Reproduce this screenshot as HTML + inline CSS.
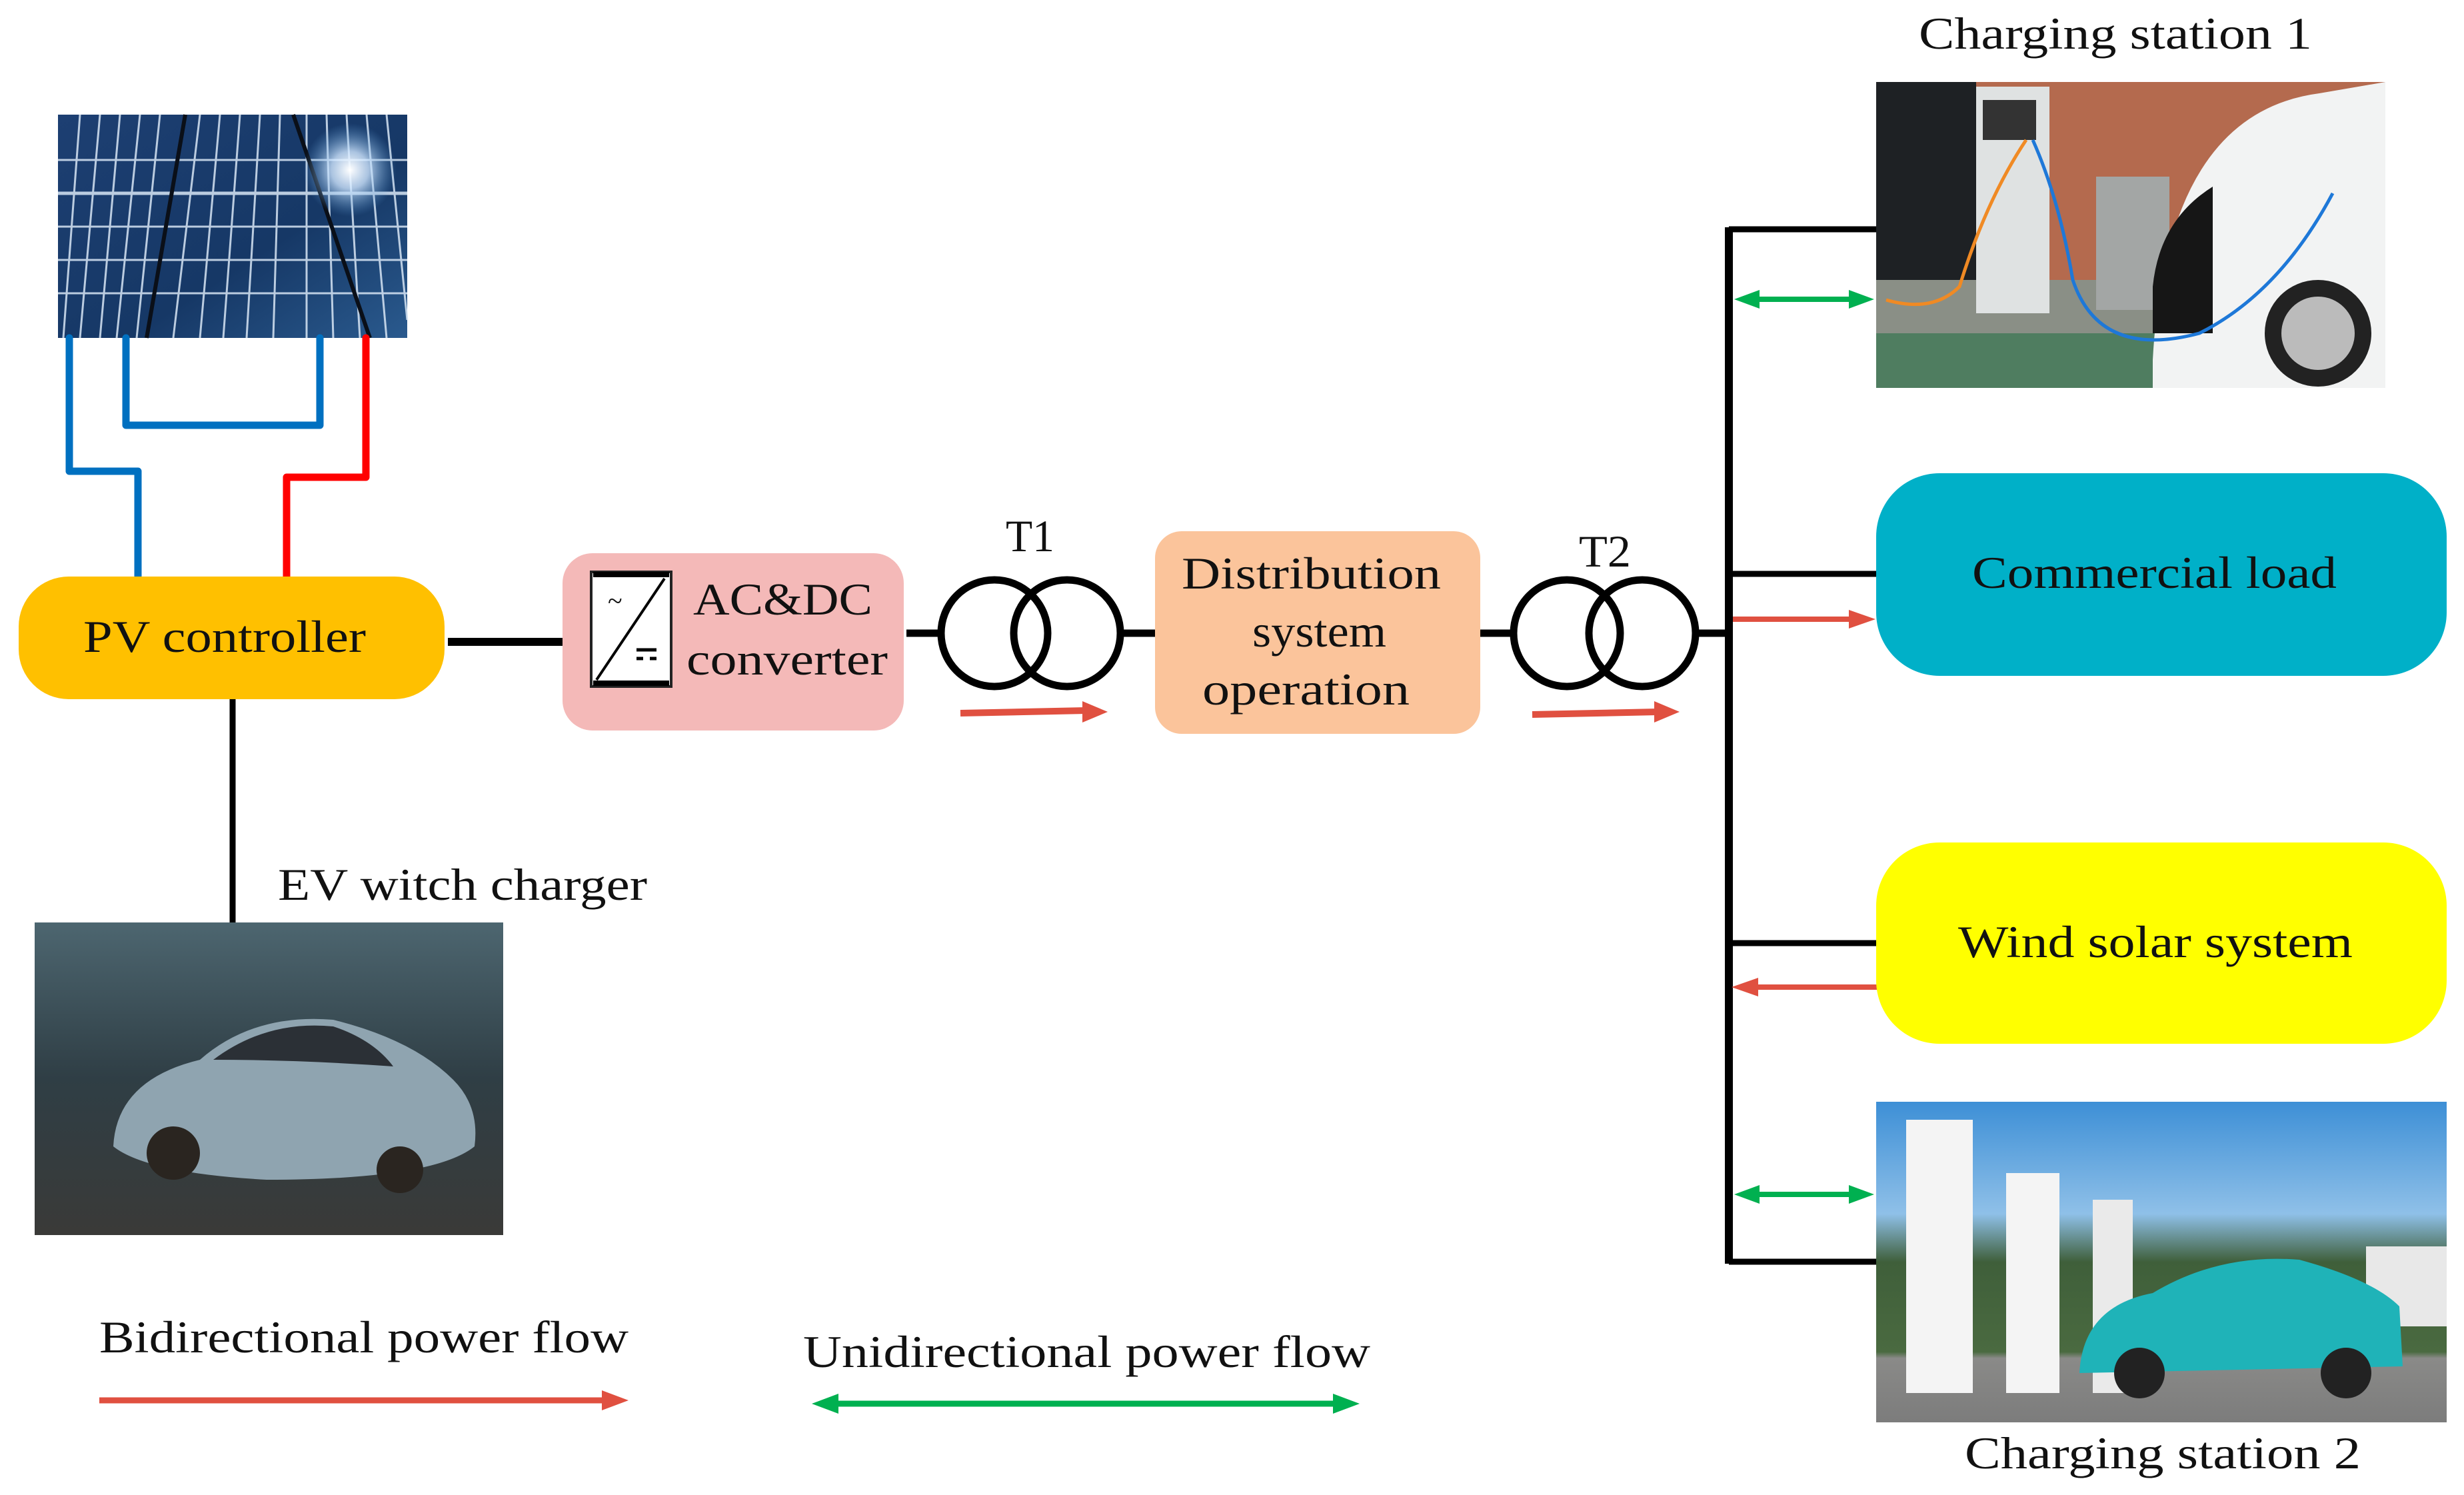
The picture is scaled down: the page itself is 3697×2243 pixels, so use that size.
<!DOCTYPE html>
<html><head><meta charset="utf-8"><style>
html,body{margin:0;padding:0;background:#fff}
svg{display:block}
text{font-family:"Liberation Serif",serif;fill:#111}
</style></head><body>
<svg width="3697" height="2243" viewBox="0 0 3697 2243" xmlns="http://www.w3.org/2000/svg">
<defs>
<linearGradient id="sol" x1="0" y1="0" x2="1" y2="1"><stop offset="0" stop-color="#1d3f72"/><stop offset="0.6" stop-color="#163866"/><stop offset="1" stop-color="#2a5a8e"/></linearGradient>
<radialGradient id="sun" cx="0.5" cy="0.5" r="0.5"><stop offset="0" stop-color="#fff"/><stop offset="0.4" stop-color="#cfe6ff" stop-opacity="0.8"/><stop offset="1" stop-color="#5b9bd5" stop-opacity="0"/></radialGradient>
<linearGradient id="carbg" x1="0" y1="0" x2="0" y2="1"><stop offset="0" stop-color="#4d6670"/><stop offset="0.5" stop-color="#2f3e45"/><stop offset="1" stop-color="#3a3a38"/></linearGradient>
<linearGradient id="sky" x1="0" y1="0" x2="0" y2="1"><stop offset="0" stop-color="#3d8fd6"/><stop offset="0.35" stop-color="#8fc0e8"/><stop offset="0.5" stop-color="#3f5f3a"/><stop offset="0.78" stop-color="#4a6a40"/><stop offset="0.8" stop-color="#8a8a88"/><stop offset="1" stop-color="#7c7c7c"/></linearGradient>
</defs>

<rect x="87" y="172" width="524" height="335" fill="url(#sol)"/>
<g stroke="#d8e6f5" stroke-width="3" opacity="0.85">
<line x1="87" y1="290" x2="611" y2="290" stroke-width="5"/>
<line x1="87" y1="340" x2="611" y2="340"/><line x1="87" y1="390" x2="611" y2="390"/><line x1="87" y1="440" x2="611" y2="440"/><line x1="87" y1="240" x2="611" y2="240"/>
<line x1="120" y1="172" x2="95" y2="507"/><line x1="150" y1="172" x2="120" y2="507"/><line x1="180" y1="172" x2="150" y2="507"/><line x1="210" y1="172" x2="175" y2="507"/><line x1="240" y1="172" x2="205" y2="507"/>
<line x1="300" y1="172" x2="260" y2="507"/><line x1="330" y1="172" x2="300" y2="507"/><line x1="360" y1="172" x2="335" y2="507"/><line x1="390" y1="172" x2="370" y2="507"/><line x1="420" y1="172" x2="410" y2="507"/>
<line x1="460" y1="172" x2="460" y2="507"/><line x1="490" y1="172" x2="500" y2="507"/><line x1="520" y1="172" x2="540" y2="507"/><line x1="550" y1="172" x2="580" y2="507"/><line x1="580" y1="172" x2="611" y2="480"/>
</g>
<g stroke="#0a0f18" stroke-width="6"><line x1="278" y1="172" x2="220" y2="507"/><line x1="440" y1="172" x2="555" y2="507"/></g>
<circle cx="525" cy="255" r="70" fill="url(#sun)"/>

<g fill="none" stroke-width="11" stroke-linejoin="round" stroke-linecap="round">
<polyline points="104,507 104,707 207,707 207,865" stroke="#0070C0"/>
<polyline points="189,507 189,638 480,638 480,507" stroke="#0070C0"/>
<polyline points="549,507 549,716 430,716 430,865" stroke="#FF0000"/>
</g>

<rect x="28" y="865" width="639" height="184" rx="75" fill="#FFC000"/>
<text x="125" y="978" font-size="68" textLength="424" lengthAdjust="spacingAndGlyphs">PV controller</text>
<line x1="349" y1="1049" x2="349" y2="1384" stroke="#000" stroke-width="9"/>
<line x1="672" y1="963" x2="846" y2="963" stroke="#000" stroke-width="12"/>

<rect x="844" y="830" width="512" height="266" rx="45" fill="#F4B9B8"/>
<rect x="887" y="858" width="120" height="172" fill="#fff" stroke="#222" stroke-width="4"/>
<line x1="890" y1="862" x2="1004" y2="862" stroke="#000" stroke-width="8"/>
<line x1="890" y1="1025" x2="1004" y2="1025" stroke="#000" stroke-width="8"/>
<line x1="997" y1="868" x2="895" y2="1020" stroke="#000" stroke-width="4"/>
<text x="912" y="915" font-size="40">~</text>
<line x1="955" y1="975" x2="985" y2="975" stroke="#000" stroke-width="5"/>
<line x1="955" y1="988" x2="965" y2="988" stroke="#000" stroke-width="5"/><line x1="975" y1="988" x2="985" y2="988" stroke="#000" stroke-width="5"/>
<text x="1040" y="922" font-size="68" textLength="269" lengthAdjust="spacingAndGlyphs">AC&amp;DC</text>
<text x="1030" y="1012" font-size="68" textLength="302" lengthAdjust="spacingAndGlyphs">converter</text>

<line x1="1360" y1="950" x2="1412" y2="950" stroke="#000" stroke-width="11"/>
<circle cx="1492" cy="950" r="80" fill="none" stroke="#000" stroke-width="11"/>
<circle cx="1601" cy="950" r="80" fill="none" stroke="#000" stroke-width="11"/>
<line x1="1681" y1="950" x2="1735" y2="950" stroke="#000" stroke-width="11"/>
<text x="1509" y="827" font-size="68" textLength="73" lengthAdjust="spacingAndGlyphs">T1</text>
<line x1="1441" y1="1070" x2="1630" y2="1066" stroke="#E05040" stroke-width="10"/>
<polygon points="1662,1068 1624,1052 1624,1084" fill="#E05040"/>

<rect x="1733" y="797" width="488" height="304" rx="40" fill="#FBC49B"/>
<text x="1773" y="883" font-size="68" textLength="389" lengthAdjust="spacingAndGlyphs">Distribution</text>
<text x="1879" y="970" font-size="68" textLength="201" lengthAdjust="spacingAndGlyphs">system</text>
<text x="1804" y="1057" font-size="68" textLength="311" lengthAdjust="spacingAndGlyphs">operation</text>

<line x1="2221" y1="950" x2="2272" y2="950" stroke="#000" stroke-width="11"/>
<circle cx="2351" cy="950" r="80" fill="none" stroke="#000" stroke-width="11"/>
<circle cx="2464" cy="950" r="80" fill="none" stroke="#000" stroke-width="11"/>
<line x1="2544" y1="950" x2="2596" y2="950" stroke="#000" stroke-width="11"/>
<text x="2369" y="850" font-size="68" textLength="78" lengthAdjust="spacingAndGlyphs">T2</text>
<line x1="2299" y1="1072" x2="2488" y2="1068" stroke="#E05040" stroke-width="10"/>
<polygon points="2520,1068 2482,1052 2482,1084" fill="#E05040"/>

<line x1="2594" y1="341" x2="2594" y2="1896" stroke="#000" stroke-width="12"/>
<g stroke="#000" stroke-width="9">
<line x1="2594" y1="344" x2="2818" y2="344"/>
<line x1="2594" y1="861" x2="2818" y2="861"/>
<line x1="2594" y1="1415" x2="2818" y2="1415"/>
<line x1="2594" y1="1893" x2="2818" y2="1893"/>
</g>
<g stroke="#00B050" stroke-width="8">
<line x1="2630" y1="449" x2="2780" y2="449"/>
<line x1="2630" y1="1792" x2="2780" y2="1792"/>
</g>
<g fill="#00B050">
<polygon points="2602,449 2640,435 2640,463"/><polygon points="2812,449 2774,435 2774,463"/>
<polygon points="2602,1792 2640,1778 2640,1806"/><polygon points="2812,1792 2774,1778 2774,1806"/>
</g>
<line x1="2600" y1="929" x2="2780" y2="929" stroke="#E05040" stroke-width="8"/>
<polygon points="2814,929 2774,915 2774,943" fill="#E05040"/>
<line x1="2630" y1="1481" x2="2818" y2="1481" stroke="#E05040" stroke-width="8"/>
<polygon points="2598,1481 2638,1467 2638,1495" fill="#E05040"/>

<text x="2879" y="73" font-size="68" textLength="590" lengthAdjust="spacingAndGlyphs">Charging station 1</text>
<rect x="2815" y="123" width="764" height="459" fill="#b46a4e"/>
<rect x="2815" y="123" width="150" height="300" fill="#1e2124"/>
<rect x="2815" y="420" width="764" height="162" fill="#8a8f86"/>
<rect x="2815" y="500" width="764" height="82" fill="#4f7d60"/>
<rect x="2965" y="130" width="110" height="340" fill="#dfe2e2"/>
<rect x="2975" y="150" width="80" height="60" fill="#333"/>
<rect x="3145" y="265" width="110" height="200" fill="#a3a6a5"/>
<path d="M3230 540 Q3250 170 3480 140 L3579 123 L3579 582 L3230 582 Z" fill="#f2f3f3"/>
<path d="M3230 430 Q3240 330 3320 280 L3320 500 L3230 500 Z" fill="#161616"/>
<circle cx="3478" cy="500" r="80" fill="#222"/><circle cx="3478" cy="500" r="55" fill="#bbb"/>
<path d="M3040 210 Q2980 300 2940 430 Q2900 470 2830 450" fill="none" stroke="#f08a24" stroke-width="5"/>
<path d="M3050 210 Q3090 300 3110 420 Q3150 540 3300 500 Q3420 440 3500 290" fill="none" stroke="#1e78d8" stroke-width="5"/>

<rect x="2815" y="710" width="856" height="304" rx="95" fill="#00B0C8"/>
<text x="2959" y="882" font-size="68" textLength="547" lengthAdjust="spacingAndGlyphs">Commercial load</text>

<rect x="2815" y="1264" width="856" height="302" rx="95" fill="#FFFF00"/>
<text x="2938" y="1436" font-size="68" textLength="592" lengthAdjust="spacingAndGlyphs">Wind solar system</text>

<rect x="2815" y="1653" width="856" height="481" fill="url(#sky)"/>
<rect x="2860" y="1680" width="100" height="410" fill="#f4f4f4"/>
<rect x="3010" y="1760" width="80" height="330" fill="#f4f4f4"/>
<rect x="3140" y="1800" width="60" height="290" fill="#eaeaea"/>
<rect x="3550" y="1870" width="121" height="120" fill="#e8e8e8"/>
<path d="M3120 2060 Q3125 1960 3230 1940 Q3330 1880 3450 1890 Q3560 1920 3600 1960 L3605 2050 Z" fill="#1fb3b8"/>
<circle cx="3210" cy="2060" r="38" fill="#222"/><circle cx="3520" cy="2060" r="38" fill="#222"/>
<text x="2948" y="2203" font-size="68" textLength="594" lengthAdjust="spacingAndGlyphs">Charging station 2</text>

<text x="417" y="1350" font-size="68" textLength="554" lengthAdjust="spacingAndGlyphs">EV witch charger</text>
<rect x="52" y="1384" width="703" height="469" fill="url(#carbg)"/>
<path d="M170 1720 Q175 1620 300 1590 Q380 1520 500 1530 Q620 1560 680 1620 Q720 1660 712 1720 Q650 1770 400 1770 Q220 1760 170 1720 Z" fill="#8fa4b0"/>
<path d="M320 1590 Q400 1530 500 1540 Q560 1560 590 1600 Q450 1590 320 1590 Z" fill="#2b3036"/>
<circle cx="260" cy="1730" r="40" fill="#2a2520"/><circle cx="600" cy="1755" r="35" fill="#2a2520"/>

<text x="149" y="2029" font-size="68" textLength="794" lengthAdjust="spacingAndGlyphs">Bidirectional power flow</text>
<line x1="149" y1="2101" x2="905" y2="2101" stroke="#E05040" stroke-width="9"/>
<polygon points="943,2101 903,2086 903,2116" fill="#E05040"/>
<text x="1205" y="2051" font-size="68" textLength="851" lengthAdjust="spacingAndGlyphs">Unidirectional power flow</text>
<line x1="1250" y1="2106" x2="2000" y2="2106" stroke="#00B050" stroke-width="9"/>
<polygon points="1218,2106 1258,2091 1258,2121" fill="#00B050"/>
<polygon points="2040,2106 2000,2091 2000,2121" fill="#00B050"/>
</svg>
</body></html>
